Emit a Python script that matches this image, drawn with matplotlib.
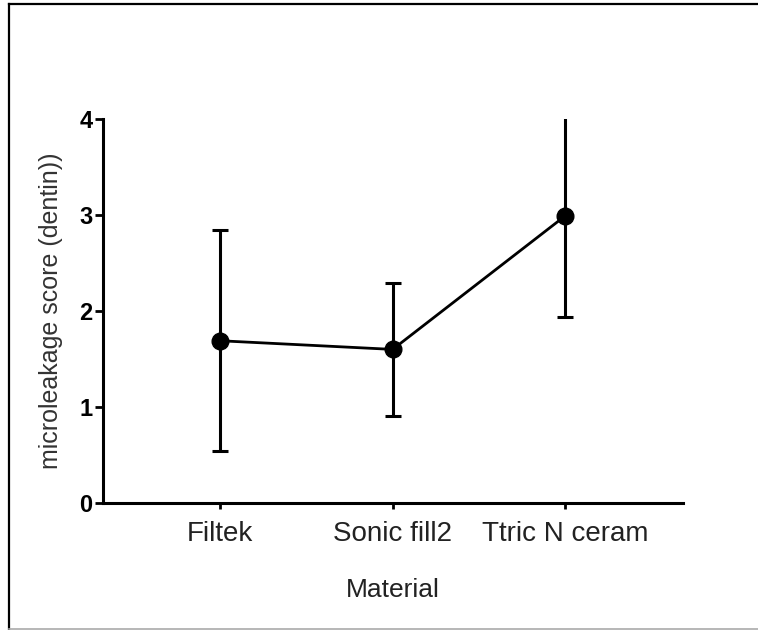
import matplotlib
matplotlib.use("Agg")
import matplotlib.pyplot as plt
from matplotlib.lines import Line2D

materials = ["Filtek", "Sonic fill2", "Ttric N ceram"]
means = [1.69, 1.60, 2.99]
sds = [1.15, 0.69, 1.05]
yticks = [0, 1, 2, 3, 4]

plt.rcParams['font.family'] = ['Liberation Sans', 'DejaVu Sans']

fig = plt.figure(figsize=(7.58, 6.30), dpi=100)
W, H = 758, 630
ax = fig.add_axes([103 / W, 127 / H, (683 - 103) / W, 384 / H])

x = list(range(len(materials)))
ax.errorbar(x, means, yerr=sds, fmt='-o', color='black', lw=2.0,
            elinewidth=2.2, capsize=6, capthick=2.2, markersize=12,
            clip_on=True)

ax.set_xlim(-0.68, 2.684)
ax.set_ylim(0, 4)
ax.set_yticks(yticks)
ax.set_yticklabels([str(t) for t in yticks], fontsize=17, fontweight='bold')
ax.set_xticks(x)
ax.set_xticklabels(materials, fontsize=20, color='#222222')
for s in ['top', 'right']:
    ax.spines[s].set_visible(False)
for s in ['left', 'bottom']:
    ax.spines[s].set_linewidth(2.2)
ax.tick_params(axis='y', length=6, width=2, pad=1.5)
ax.tick_params(axis='x', length=4, width=2, pad=9)

ax.set_xlabel("Material", fontsize=19, labelpad=22, color='#222222')
ax.set_ylabel("microleakage score (dentin))", fontsize=18, labelpad=12, color='#333333')

# figure frame
fig.add_artist(Line2D([9 / W, 9 / W], [0, 1 - 4 / H], transform=fig.transFigure, color='black', lw=1.6))
fig.add_artist(Line2D([9 / W, 1], [1 - 4 / H, 1 - 4 / H], transform=fig.transFigure, color='black', lw=1.6))
fig.add_artist(Line2D([9 / W, 1], [1 / H, 1 / H], transform=fig.transFigure, color='#aaaaaa', lw=1.2))

fig.savefig("out.png", dpi=100)
